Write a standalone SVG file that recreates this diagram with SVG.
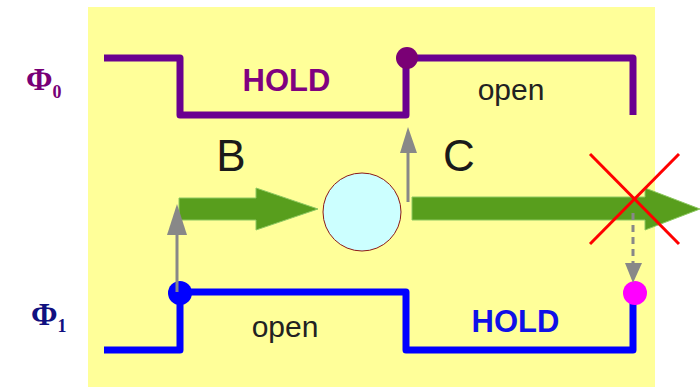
<svg xmlns="http://www.w3.org/2000/svg" width="700" height="387" viewBox="0 0 700 387">
<style>
.sig{fill:none;stroke-width:7;stroke-linejoin:round;stroke-linecap:butt}
.phi{font-family:"Liberation Serif",serif;font-weight:bold}
.lbl{font-family:"Liberation Sans",Arial,sans-serif}
.gray{stroke:#888;stroke-width:3;fill:none}
.grayhead{fill:#888}
.green{fill:#589e1d;stroke:#8cc860;stroke-width:1}
</style>
<rect x="88" y="7" width="567" height="380" fill="#ffff99"/>
<g id="phi0-label"><text class="phi" x="26" y="90" font-size="32" fill="#770077">Φ<tspan font-size="18" dy="8">0</tspan></text></g>
<g id="phi1-label"><text class="phi" x="31" y="325" font-size="32" fill="#101080">Φ<tspan font-size="18" dy="7">1</tspan></text></g>
<g id="phi0-signal">
<path class="sig" stroke="#6a0090" d="M104 58 H180 V115 H406 V58 H633 V115"/>
<circle cx="407" cy="58" r="11" fill="#7a0075"/>
<text class="lbl" x="286.5" y="91" font-size="31" font-weight="bold" fill="#800080" text-anchor="middle">HOLD</text>
<text class="lbl" x="511" y="100" font-size="30" fill="#222" text-anchor="middle">open</text>
</g>
<g id="phi1-signal">
<path class="sig" stroke="#0000ff" d="M104 350 H180 V292 H406 V350 H633 V293"/>
<circle cx="180" cy="293" r="12" fill="#0000ff"/>
<circle cx="635" cy="293" r="12" fill="#ff00ff"/>
<text class="lbl" x="285" y="337" font-size="30" fill="#222" text-anchor="middle">open</text>
<text class="lbl" x="515.5" y="332" font-size="31" font-weight="bold" fill="#1010e8" text-anchor="middle">HOLD</text>
</g>
<g id="labels">
<text class="lbl" x="231" y="171" font-size="44" fill="#1a1a1a" text-anchor="middle">B</text>
<text class="lbl" x="459" y="171" font-size="44" fill="#1a1a1a" text-anchor="middle">C</text>
</g>
<g id="node-circle"><circle cx="362" cy="212" r="39" fill="#ccffff" stroke="#8b1a1a" stroke-width="1"/></g>
<g id="connectors">
<polygon class="green" points="179,198 256,198 256,188 318,209 256,230 256,220 179,220"/>
<polygon class="green" points="412,197 645,197 645,188 700,209 645,230 645,220 412,220"/>
<line class="gray" x1="177" y1="292" x2="177" y2="232"/>
<polygon class="grayhead" points="177,204 167,235 187,235"/>
<line class="gray" x1="408" y1="202" x2="408" y2="150"/>
<polygon class="grayhead" points="408,127 400,153 417,153"/>
<line class="gray" x1="633" y1="213" x2="633" y2="264" stroke-dasharray="7,5"/>
<polygon class="grayhead" points="633,283 625,263 642,263"/>
</g>
<g id="cross">
<line x1="590" y1="154" x2="679" y2="244" stroke="#ff0000" stroke-width="3"/>
<line x1="679" y1="154" x2="590" y2="244" stroke="#ff0000" stroke-width="3"/>
</g>
</svg>
